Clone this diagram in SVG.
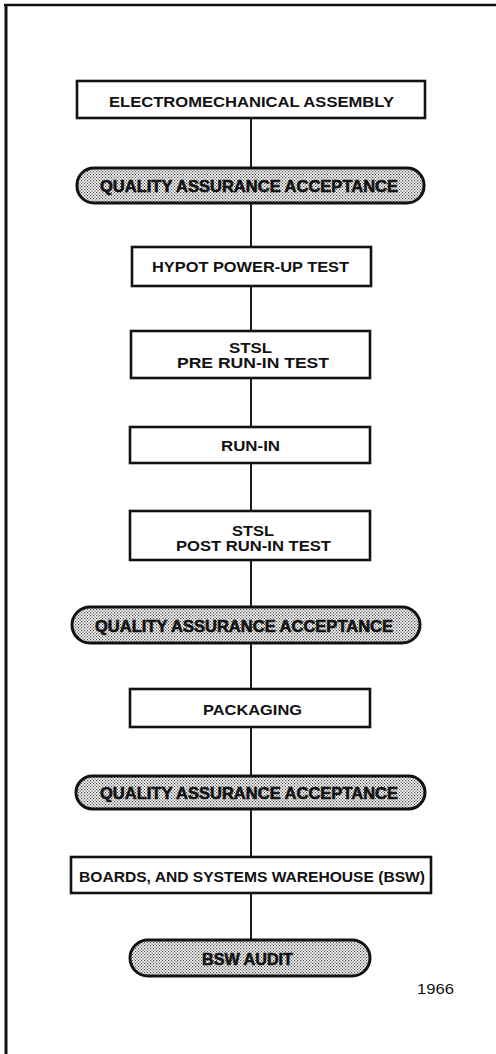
<svg xmlns="http://www.w3.org/2000/svg" width="496" height="1054" viewBox="0 0 496 1054">
<style>
.box{fill:#fff;stroke:#111;stroke-width:2.6}
.pill{fill:url(#dots);stroke:#111;stroke-width:3}
.t{font-family:"Liberation Sans",Arial,sans-serif;font-weight:bold;font-size:15px;fill:#111}
.q{font-family:"Liberation Sans",Arial,sans-serif;font-weight:bold;font-size:16.5px;fill:#111;stroke:#111;stroke-width:0.6}
.c{stroke:#111;stroke-width:1.9;fill:none}
</style>
<defs>
<pattern id="dots" width="3" height="3" patternUnits="userSpaceOnUse">
<rect width="3" height="3" fill="#fff"/>
<rect x="0" y="0" width="1.2" height="1.2" fill="#444"/>
<rect x="1.5" y="1.5" width="1.2" height="1.2" fill="#444"/>
</pattern>
</defs>
<g id="frame" stroke="#111" fill="none">
<line x1="4" y1="5" x2="496" y2="5" stroke-width="2.5"/>
<line x1="6" y1="4" x2="6" y2="1054" stroke-width="3"/>
</g>
<g id="connectors">
<line class="c" x1="251" y1="118" x2="251" y2="168"/>
<line class="c" x1="251" y1="203" x2="251" y2="247"/>
<line class="c" x1="251" y1="286" x2="251" y2="331"/>
<line class="c" x1="251" y1="378" x2="251" y2="427"/>
<line class="c" x1="251" y1="463" x2="251" y2="511"/>
<line class="c" x1="251" y1="560" x2="251" y2="607"/>
<line class="c" x1="251" y1="643" x2="251" y2="689"/>
<line class="c" x1="251" y1="727" x2="251" y2="776"/>
<line class="c" x1="251" y1="809" x2="251" y2="857"/>
<line class="c" x1="251" y1="893" x2="251" y2="940"/>
</g>
<g id="n1"><rect class="box" x="77" y="81" width="348" height="37"/>
<text class="t" x="109" y="107" textLength="285" lengthAdjust="spacingAndGlyphs">ELECTROMECHANICAL ASSEMBLY</text></g>
<g id="n2"><rect class="pill" x="77" y="168" width="347" height="35" rx="17" ry="17"/>
<text class="q" x="100" y="191.5" textLength="298" lengthAdjust="spacingAndGlyphs">QUALITY ASSURANCE ACCEPTANCE</text></g>
<g id="n3"><rect class="box" x="132" y="247" width="239" height="39"/>
<text class="t" x="152" y="272" textLength="197" lengthAdjust="spacingAndGlyphs">HYPOT POWER-UP TEST</text></g>
<g id="n4"><rect class="box" x="131" y="331" width="239" height="47"/>
<text class="t" x="229" y="353" textLength="43" lengthAdjust="spacingAndGlyphs">STSL</text>
<text class="t" x="177" y="368" textLength="152" lengthAdjust="spacingAndGlyphs">PRE RUN-IN TEST</text></g>
<g id="n5"><rect class="box" x="130" y="427" width="240" height="36"/>
<text class="t" x="221" y="451" textLength="59" lengthAdjust="spacingAndGlyphs">RUN-IN</text></g>
<g id="n6"><rect class="box" x="130" y="511" width="240" height="49"/>
<text class="t" x="232" y="536" textLength="42" lengthAdjust="spacingAndGlyphs">STSL</text>
<text class="t" x="176" y="551" textLength="155" lengthAdjust="spacingAndGlyphs">POST RUN-IN TEST</text></g>
<g id="n7"><rect class="pill" x="72" y="607" width="348" height="36" rx="18" ry="18"/>
<text class="q" x="95" y="631.5" textLength="298" lengthAdjust="spacingAndGlyphs">QUALITY ASSURANCE ACCEPTANCE</text></g>
<g id="n8"><rect class="box" x="130" y="689" width="240" height="38"/>
<text class="t" x="203" y="715" textLength="99" lengthAdjust="spacingAndGlyphs">PACKAGING</text></g>
<g id="n9"><rect class="pill" x="76" y="776" width="349" height="33" rx="16.5" ry="16.5"/>
<text class="q" x="100" y="798.5" textLength="298" lengthAdjust="spacingAndGlyphs">QUALITY ASSURANCE ACCEPTANCE</text></g>
<g id="n10"><rect class="box" x="71" y="857" width="360" height="36"/>
<text class="t" x="79" y="881.5" textLength="346" lengthAdjust="spacingAndGlyphs">BOARDS, AND SYSTEMS WAREHOUSE (BSW)</text></g>
<g id="n11"><rect class="pill" x="130" y="940" width="240" height="36" rx="18" ry="18"/>
<text class="q" x="202" y="964.5" textLength="91" lengthAdjust="spacingAndGlyphs">BSW AUDIT</text></g>
<text x="417" y="994" font-family="'Liberation Sans',Arial,sans-serif" font-size="15" fill="#111" textLength="37" lengthAdjust="spacingAndGlyphs">1966</text>
</svg>
